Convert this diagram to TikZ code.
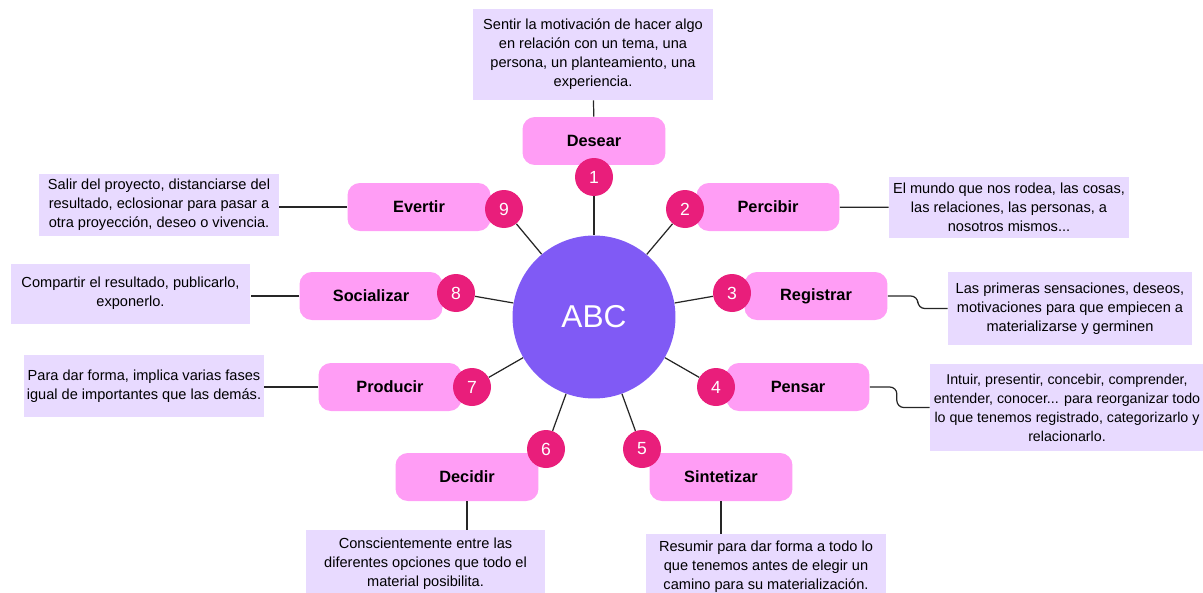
\documentclass[tikz,border=0pt]{standalone}
\usepackage{fontspec}
\setmainfont{Liberation Sans}
\definecolor{rosa}{RGB}{255,157,245}
\definecolor{lila}{RGB}{232,218,255}
\definecolor{fucsia}{RGB}{233,30,123}
\definecolor{violeta}{RGB}{128,90,245}

\begin{document}
\begin{tikzpicture}[
    x=0.02cm, y=-0.02cm,
    fase/.style={fill=rosa, rounded corners=7pt, minimum width=2.86cm, minimum height=0.96cm, inner sep=0pt, font=\fontsize{9.3}{11}\selectfont\bfseries},
    nota/.style={fill=lila, align=center, inner sep=0pt, minimum width=4.8cm, font=\fontsize{8.3}{10.8}\selectfont},
    num/.style={circle, fill=fucsia, text=white, minimum size=0.76cm, inner sep=0pt, font=\fontsize{10}{12}\selectfont},
    nucleo/.style={circle, fill=violeta, text=white, minimum size=3.26cm, inner sep=0pt, font=\fontsize{18}{20}\selectfont},
    enlace/.style={line width=0.7pt, black!85}
]
    \useasboundingbox (0,0) rectangle (1203,592);

    % notas
    \node[nota, minimum height=1.82cm] (dDesear) at (593,54.5) {Sentir la motivación de hacer algo\\en relación con un tema, una\\persona, un planteamiento, una\\experiencia.};
    \node[nota, minimum height=1.22cm] (dPercibir) at (1009,207.5) {El mundo que nos rodea, las cosas,\\las relaciones, las personas, a\\nosotros mismos...};
    \node[nota, minimum width=4.88cm, minimum height=1.46cm] (dRegistrar) at (1070,308.5) {Las primeras sensaciones, deseos,\\motivaciones para que empiecen a\\materializarse y germinen};
    \node[nota, minimum width=5.48cm, minimum height=1.74cm, font=\fontsize{8.1}{10.8}\selectfont] (dPensar) at (1067,407.5) {Intuir, presentir, concebir, comprender,\\entender, conocer... para reorganizar todo\\lo que tenemos registrado, categorizarlo y\\relacionarlo.};
    \node[nota, minimum height=1.32cm] (dSintetizar) at (766,567) {Resumir para dar forma a todo lo\\que tenemos antes de elegir un\\camino para su materialización.};
    \node[nota, minimum height=1.34cm] (dDecidir) at (425.5,563.5) {Conscientemente entre las\\diferentes opciones que todo el\\material posibilita.};
    \node[nota, minimum height=1.24cm] (dProducir) at (144,386) {Para dar forma, implica varias fases\\igual de importantes que las demás.};
    \node[nota, minimum height=1.2cm] (dSocializar) at (130.5,293.5) {Compartir el resultado, publicarlo,\\exponerlo.};
    \node[nota, minimum height=1.24cm] (dEvertir) at (159,205) {Salir del proyecto, distanciarse del\\resultado, eclosionar para pasar a\\otra proyección, deseo o vivencia.};

    % fases
    \node[fase] (desear) at (594,141) {Desear};
    \node[fase] (percibir) at (768,207) {Percibir};
    \node[fase] (registrar) at (816,296) {Registrar};
    \node[fase] (pensar) at (798,387) {Pensar};
    \node[fase] (sintetizar) at (721,477) {Sintetizar};
    \node[fase] (decidir) at (467,477) {Decidir};
    \node[fase] (producir) at (390,387) {Producir};
    \node[fase] (socializar) at (371,296) {Socializar};
    \node[fase] (evertir) at (419,207) {Evertir};

    \node[num] (n1) at (594,177) {1};
    \node[num] (n2) at (685,209) {2};
    \node[num] (n3) at (732,293) {3};
    \node[num] (n4) at (716,387) {4};
    \node[num] (n5) at (642,449) {5};
    \node[num] (n6) at (546,449) {6};
    \node[num] (n7) at (472,387) {7};
    \node[num] (n8) at (456,293) {8};
    \node[num] (n9) at (504,209) {9};

    \node[nucleo] (abc) at (594,317) {ABC};

    \foreach \i in {1,...,9}
        \draw[enlace] (abc) -- (n\i);

    \draw[enlace] (desear) -- (dDesear);
    \draw[enlace] (percibir) -- (dPercibir);
    \draw[enlace, rounded corners=4pt] (registrar.east) -- ++(30,0) |- (dRegistrar.west);
    \draw[enlace, rounded corners=4pt] (pensar.east) -- ++(27,0) |- (dPensar.west);
    \draw[enlace] (sintetizar.south) -- (sintetizar.south |- dSintetizar.north);
    \draw[enlace] (decidir.south) -- (decidir.south |- dDecidir.north);
    \draw[enlace] (producir.west) -- (dProducir.east |- producir.west);
    \draw[enlace] (socializar.west) -- (dSocializar.east |- socializar.west);
    \draw[enlace] (evertir.west) -- (dEvertir.east |- evertir.west);
\end{tikzpicture}
\end{document}
